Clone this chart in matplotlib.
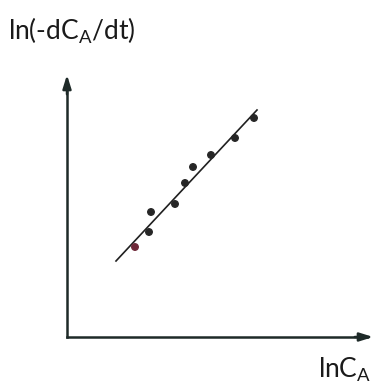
import numpy as np
import matplotlib.pyplot as plt

plt.rcParams['font.family'] = 'Lato'

# points (arbitrary units, origin at axis corner)
ln_ca = [68, 82, 84, 108, 118, 126, 144, 168, 187]
ln_rate = [90, 105, 125, 133, 154, 170, 182, 199, 219]
pt_colors = ['#6e2838'] + ['#262626'] * 8

# fitted line ends
fit_x = [49, 190]
fit_y = [76, 227]

fig = plt.figure(figsize=(3.78, 3.86), dpi=100)
ax = fig.add_axes([0, 0, 1, 1])
ax.set_xlim(-67, 311)
ax.set_ylim(-49, 337)
ax.axis('off')

# axes with arrows
ax.plot([0, 0], [0, 255], color='#1e2a28', lw=1.8)
ax.plot([0, 300], [0, 0], color='#1e2a28', lw=1.8)
ax.annotate('', xy=(0, 265), xytext=(0, 240),
            arrowprops=dict(arrowstyle='-|>,head_length=0.8,head_width=0.25',
                            color='#1e2a28', lw=1.8))
ax.annotate('', xy=(309, 0), xytext=(285, 0),
            arrowprops=dict(arrowstyle='-|>,head_length=0.8,head_width=0.25',
                            color='#1e2a28', lw=1.8))

ax.plot(fit_x, fit_y, color='#202020', lw=1.2)
ax.scatter(ln_ca, ln_rate, s=22, c=pt_colors, zorder=3)

fig.text(8 / 378, 1 - 40 / 386, r'ln(-dC$_\mathregular{A}$/dt)', fontsize=19,
         color='#1a1a1a')
fig.text(318 / 378, 1 - 378 / 386, r'lnC$_\mathregular{A}$', fontsize=19,
         color='#1a1a1a')

fig.savefig('out.png', dpi=100, facecolor='white')
